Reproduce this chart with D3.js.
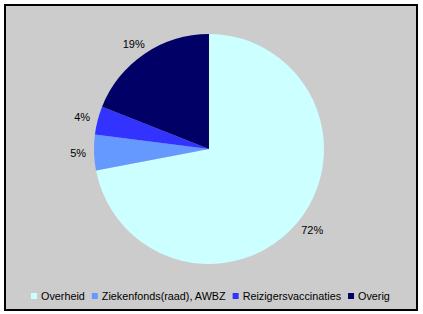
<!DOCTYPE html>
<html>
<head>
<meta charset="utf-8">
<script src="https://cdn.jsdelivr.net/npm/d3@7"></script>
<style>
  body { margin: 0; background: #fff; }
  text { font-family: "Liberation Sans", Arial, sans-serif; font-size: 11px; fill: #000; }
  .leg text { font-size: 10.8px; }
</style>
</head>
<body>
<script>
// Uitgaven vaccinaties naar financier (aandelen in %)
const categories = ["Overheid", "Ziekenfonds(raad), AWBZ", "Reizigersvaccinaties", "Overig"];
const values = [72, 5, 4, 19];
const colors = ["#ccffff", "#6699ff", "#3333ff", "#000066"];

const width = 423, height = 314;
const cx = 209, cy = 149, radius = 115;

const svg = d3.select("body").append("svg")
  .attr("width", width)
  .attr("height", height);

// chart area with frame
svg.append("rect")
  .attr("x", 5).attr("y", 5)
  .attr("width", 412).attr("height", 305)
  .attr("fill", "#cccccc")
  .attr("stroke", "#000")
  .attr("stroke-width", 2);

const pie = d3.pie().sort(null).value(d => d);
const arcs = pie(values);
const arc = d3.arc().innerRadius(0).outerRadius(radius);

const g = svg.append("g").attr("transform", `translate(${cx},${cy})`);

g.selectAll("path")
  .data(arcs)
  .join("path")
    .attr("d", arc)
    .attr("fill", (d, i) => colors[i]);

// labels just outside the pie, box pushed outwards along the mid angle
const total = d3.sum(values);
const labelR = radius + 8;
g.selectAll("text.lbl")
  .data(arcs)
  .join("text")
    .attr("class", "lbl")
    .text(d => Math.round(d.value / total * 100) + "%")
    .each(function(d) {
      const a = (d.startAngle + d.endAngle) / 2;
      const sx = Math.sin(a), sy = -Math.cos(a);
      const w = this.getComputedTextLength(), h = 9;
      const x = sx * labelR + sx * w / 2;
      const y = sy * labelR + sy * h / 2;
      d3.select(this)
        .attr("x", x)
        .attr("y", y + 4)
        .attr("text-anchor", "middle");
    });

// legend
const legend = svg.append("g").attr("class", "leg");
let lx = 0;
categories.forEach((c, i) => {
  const item = legend.append("g").attr("transform", `translate(${lx},0)`);
  item.append("rect")
    .attr("x", 0).attr("y", 293)
    .attr("width", 6).attr("height", 6)
    .attr("fill", colors[i]);
  const t = item.append("text")
    .attr("x", 10).attr("y", 299.5)
    .text(c);
  lx += 10 + t.node().getComputedTextLength() + 7;
});
const legendW = lx - 7;
legend.attr("transform", `translate(${Math.round(210 - legendW / 2)},0)`);
</script>
</body>
</html>
